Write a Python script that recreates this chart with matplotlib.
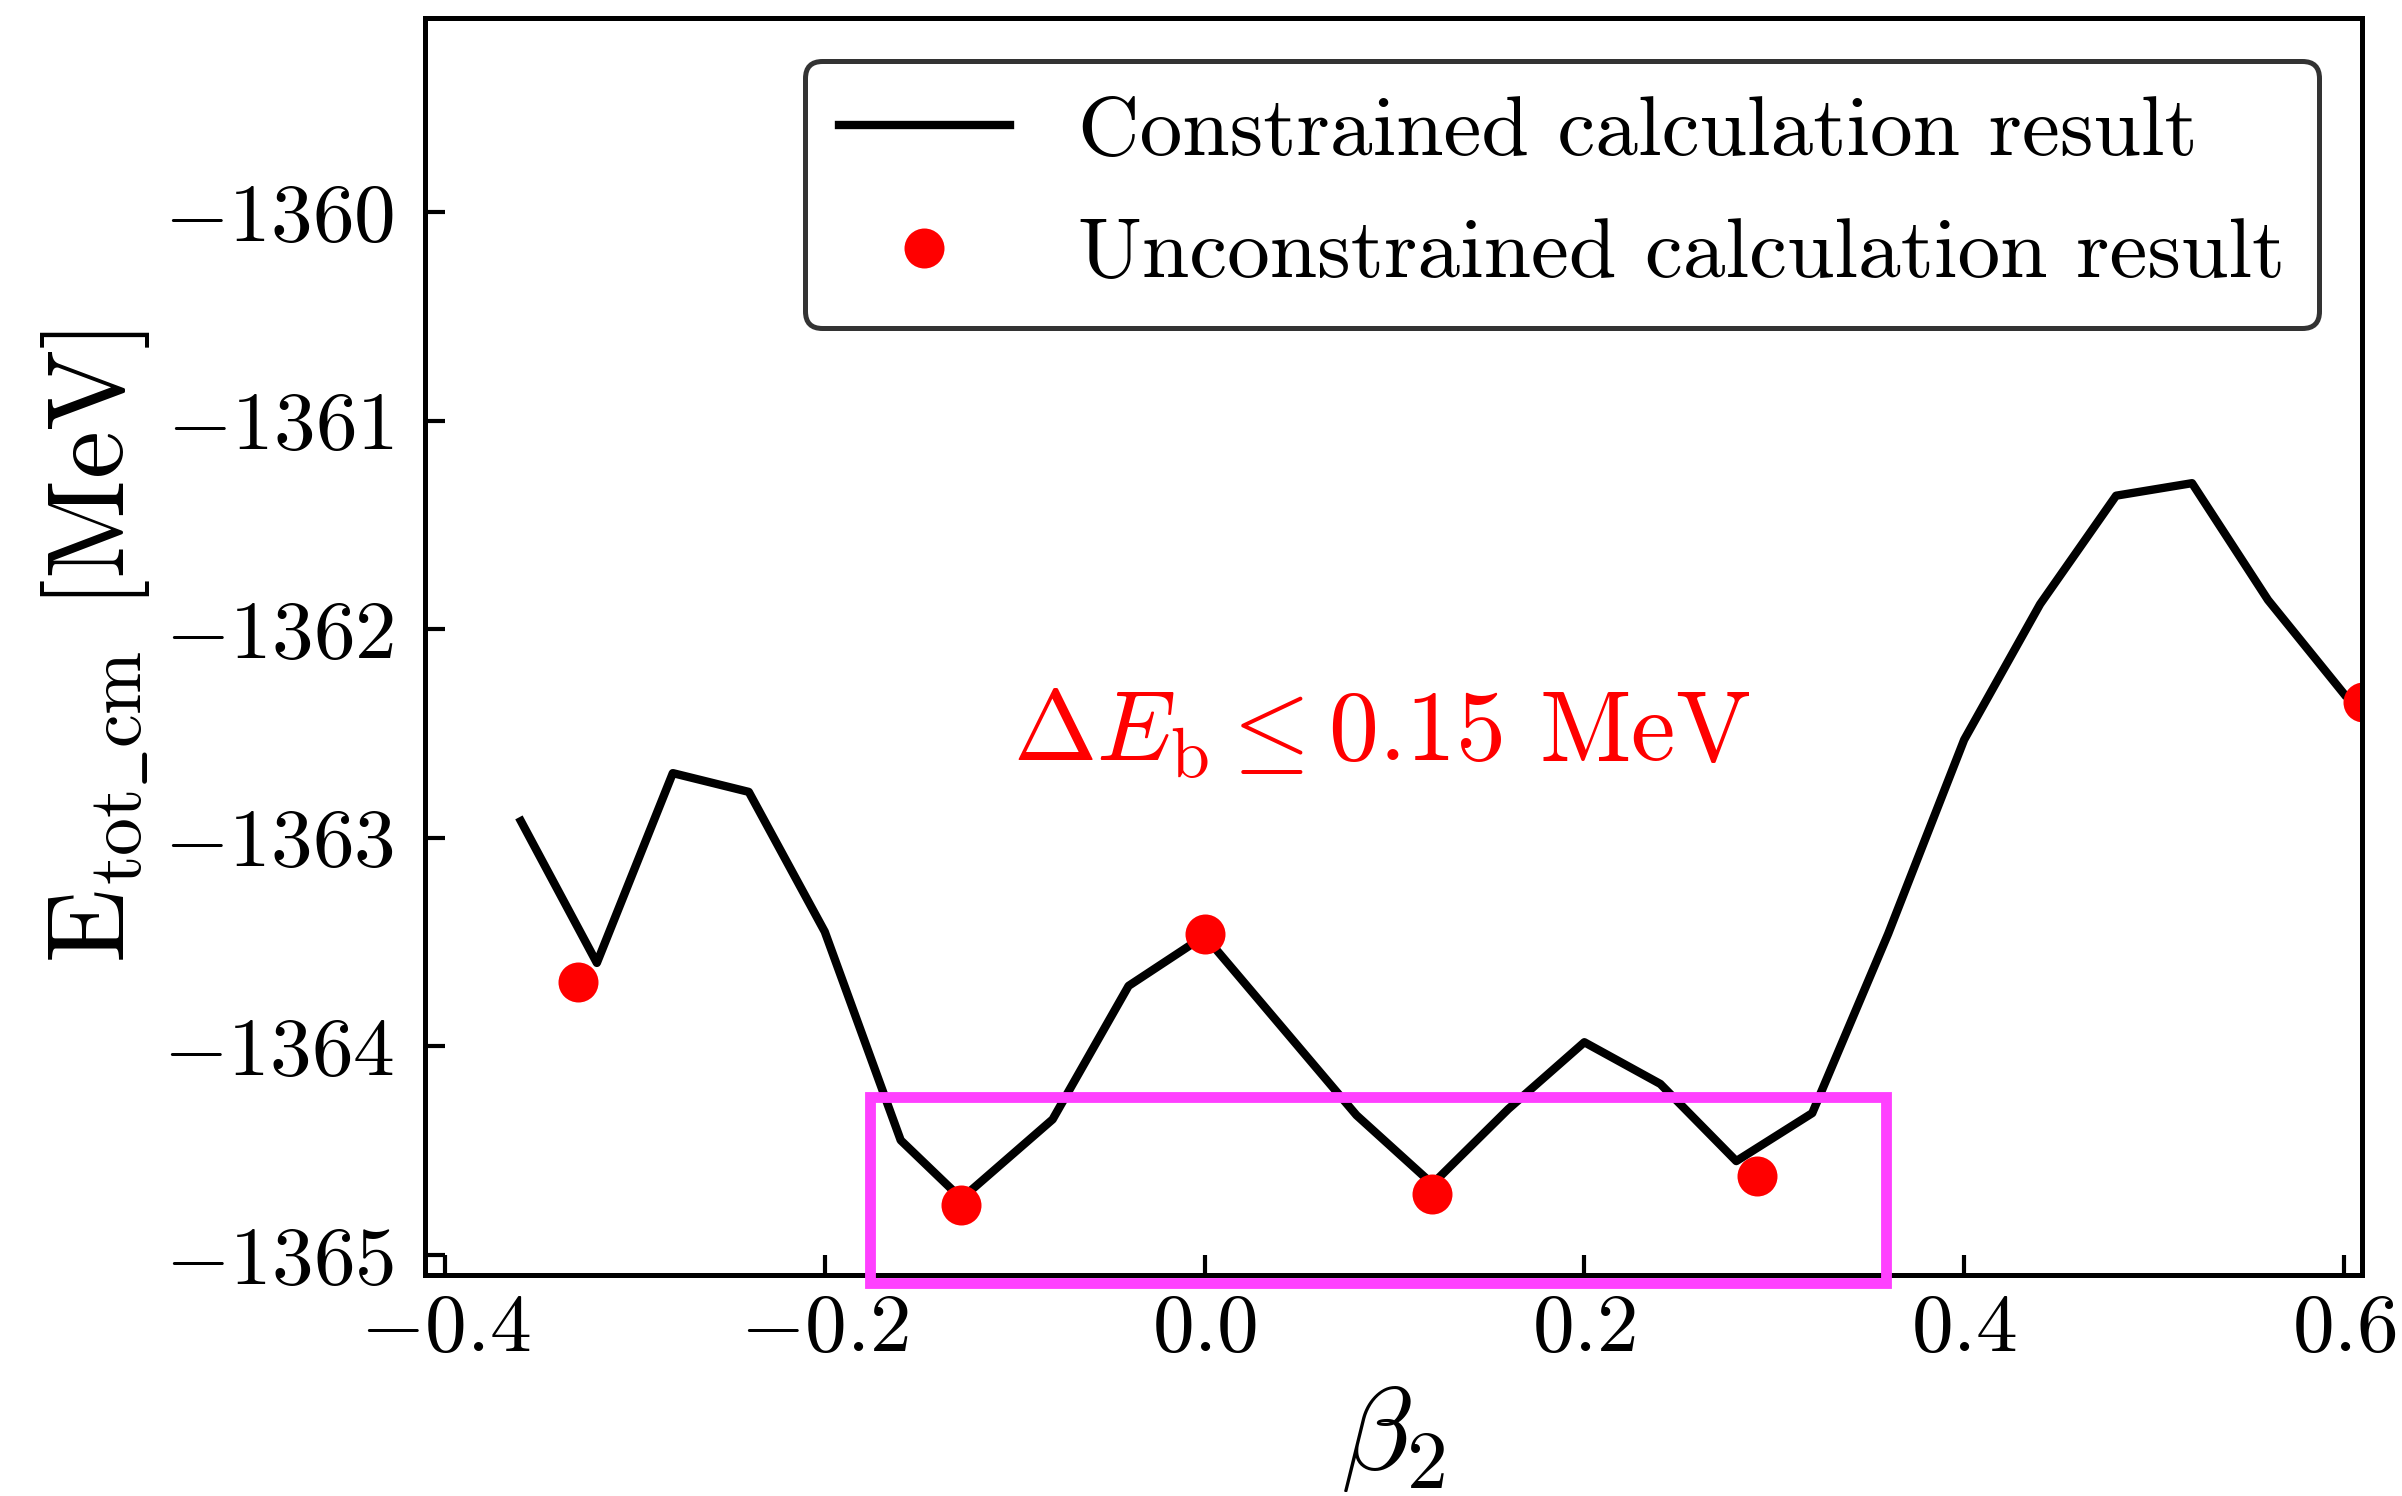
import matplotlib
matplotlib.use("Agg")
import matplotlib.pyplot as plt
from matplotlib.patches import Rectangle

# constrained calculation (beta2 grid, total energy in MeV)
beta_con = [-0.36, -0.32, -0.28, -0.24, -0.20, -0.16, -0.128, -0.08, -0.04, 0.0,
            0.08, 0.12, 0.16, 0.20, 0.24, 0.28, 0.32, 0.36, 0.40, 0.44,
            0.48, 0.52, 0.56, 0.60]
E_con = [-1362.92, -1363.60, -1362.69, -1362.78, -1363.45, -1364.45, -1364.73, -1364.35, -1363.71, -1363.47,
         -1364.33, -1364.66, -1364.30, -1363.98, -1364.18, -1364.55, -1364.32, -1363.46, -1362.53, -1361.88,
         -1361.36, -1361.30, -1361.86, -1362.31]

# unconstrained calculation
beta_unc = [-0.33, -0.128, 0.0, 0.12, 0.291, 0.61]
E_unc = [-1363.69, -1364.76, -1363.46, -1364.71, -1364.62, -1362.35]

# highlighted region (x0, x1, y0, y1)
box_x = (-0.176, 0.359)
box_y = (-1365.134, -1364.243)

plt.rcParams['font.family'] = 'serif'
plt.rcParams['font.serif'] = ['cmr10']
plt.rcParams['mathtext.fontset'] = 'cm'
plt.rcParams['axes.formatter.use_mathtext'] = True

fig = plt.figure(figsize=(2402 / 300, 1496 / 300), dpi=300)
ax = fig.add_axes([425 / 2402, 1 - 1275 / 1496, (2362 - 425) / 2402, (1275 - 18) / 1496])

ax.plot(beta_con, E_con, color='black', lw=2, label='Constrained calculation result')
ax.plot(beta_unc, E_unc, 'o', color='red', ms=9.6, mew=0, label='Unconstrained calculation result')

rect = Rectangle((box_x[0], box_y[0]), box_x[1] - box_x[0], box_y[1] - box_y[0],
                 fill=False, edgecolor='#ff40ff', lw=2.6, clip_on=False, zorder=5)
ax.add_patch(rect)

ax.text(0.093, -1362.63, r'$\Delta E_{\rm b} \leq 0.15$ MeV', color='red',
        fontsize=24, ha='center', va='baseline')

ax.set_xlim(-0.4105, 0.6095)
ax.set_ylim(-1365.096, -1359.07)
ax.set_xticks([-0.4, -0.2, 0.0, 0.2, 0.4, 0.6])
ax.set_yticks([-1365, -1364, -1363, -1362, -1361, -1360])
ax.xaxis.set_major_formatter(matplotlib.ticker.FormatStrFormatter('$%.1f$'))
ax.yaxis.set_major_formatter(matplotlib.ticker.FormatStrFormatter('$%d$'))

ax.tick_params(direction='in', length=4.8, width=1.0, labelsize=20)
ax.tick_params(axis='x', pad=4.5)
ax.tick_params(axis='y', pad=7.5)
for s in ax.spines.values():
    s.set_linewidth(1.2)

ax.set_xlabel(r'$\beta_2$', fontsize=28, labelpad=4)
ax.set_ylabel(r'$\mathrm{E}_{\mathrm{tot\_cm}}$ [MeV]', fontsize=26, labelpad=2.5)

leg = ax.legend(loc='upper right', fontsize=20.5, numpoints=1, handlelength=2.0,
                labelspacing=0.55, fancybox=True, framealpha=1)
leg.get_frame().set_edgecolor('#333333')
leg.get_frame().set_linewidth(1.2)

fig.savefig('out.png', dpi=300)
